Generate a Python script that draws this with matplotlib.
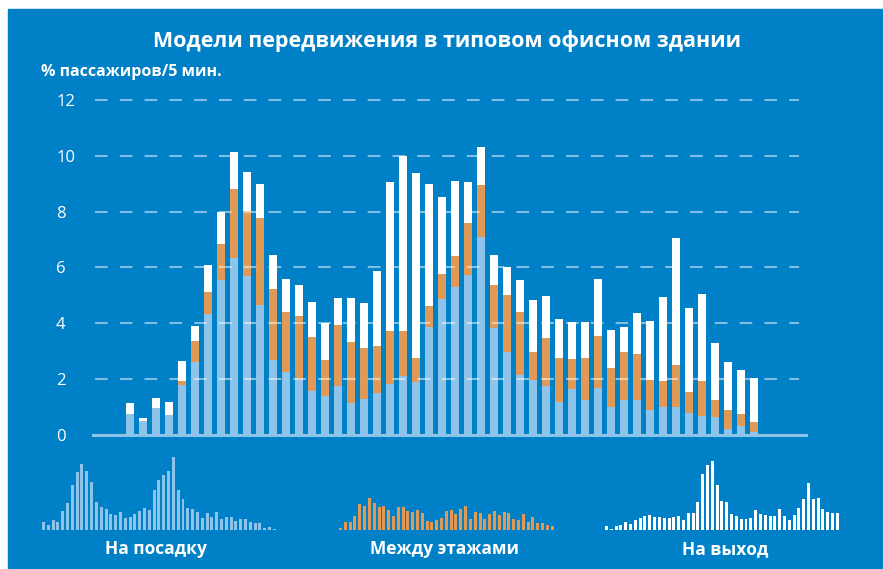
import matplotlib

matplotlib.use("Agg")
import matplotlib.pyplot as plt
from matplotlib.patches import Rectangle
import numpy as np

plt.rcParams["font.family"] = ["Open Sans", "DejaVu Sans"]

# доли пассажиров по 5-минутным интервалам (% пассажиров/5 мин.)
boarding = [0.74, 0.49, 0.96, 0.71, 1.78, 2.61, 4.34, 5.56, 6.35, 5.70,
            4.66, 2.68, 2.25, 2.00, 1.57, 1.39, 1.75, 1.14, 1.28, 1.50,
            1.82, 2.11, 1.89, 3.87, 4.87, 5.31, 5.74, 7.10, 3.83, 2.97,
            2.14, 1.96, 1.75, 1.17, 1.64, 1.25, 1.68, 0.99, 1.25, 1.25,
            0.89, 0.99, 0.99, 0.78, 0.67, 0.63, 0.20, 0.31, 0.10]
interfloor = [0.00, 0.00, 0.00, 0.00, 0.15, 0.76, 0.79, 1.29, 2.48, 2.34,
              3.12, 2.55, 2.16, 2.26, 1.94, 1.29, 2.19, 2.19, 1.83, 1.69,
              1.90, 1.61, 0.86, 0.75, 0.90, 1.11, 1.86, 1.87, 1.55, 2.05,
              2.27, 1.01, 1.72, 1.58, 1.08, 1.50, 1.86, 1.41, 1.72, 1.65,
              1.07, 0.94, 1.51, 0.75, 1.26, 0.62, 0.69, 0.43, 0.36]
exiting = [0.40, 0.11, 0.36, 0.46, 0.72, 0.53, 0.97, 1.15, 1.33, 1.40,
           1.22, 1.23, 1.18, 1.12, 1.26, 1.33, 0.97, 1.58, 1.62, 2.69,
           5.36, 6.29, 6.65, 4.38, 2.77, 2.69, 1.48, 1.37, 1.08, 1.00,
           1.15, 1.87, 1.51, 1.41, 1.33, 1.30, 2.05, 1.36, 0.90, 1.47,
           2.12, 3.02, 4.57, 3.02, 3.12, 2.04, 1.72, 1.58, 1.58]
y_ticks = [0, 2, 4, 6, 8, 10, 12]

title = "Модели передвижения в типовом офисном здании"
y_label = "% пассажиров/5 мин."
small_titles = ["На посадку", "Между этажами", "На выход"]

BG = "#0080c6"
C_BOARD = "#8ec4ea"
C_INTER = "#e09a55"
C_EXIT = "#ffffff"

W, H = 883, 569


def px_box(left, top, width, height):
    # пиксели (от левого верхнего угла) -> доли фигуры
    return [left / W, 1 - (top + height) / H, width / W, height / H]


fig = plt.figure(figsize=(W / 100, H / 100), dpi=100)
fig.patch.set_facecolor("white")
fig.patches.append(Rectangle((8 / W, 0), 1 - 8 / W, 1 - 9 / H,
                             transform=fig.transFigure, color=BG, zorder=-10))

x = np.arange(len(boarding))
b = np.array(boarding)
f = np.array(interfloor)
e = np.array(exiting)

# основной график
ax = fig.add_axes(px_box(93, 434.7 - 12.3 * 27.87, 713, 12.3 * 27.87))
ax.set_facecolor("none")
ax.bar(x, b, width=0.62, color=C_BOARD, zorder=2)
ax.bar(x, f, width=0.62, bottom=b, color=C_INTER, zorder=2)
ax.bar(x, e, width=0.62, bottom=b + f, color=C_EXIT, zorder=2)
ax.hlines(y_ticks[1:], -2.69, 51.46, colors="white", alpha=0.5, lw=1.5,
          linestyles=(0, (6.1, 5.8)), zorder=4)
ax.axhline(0, color=C_BOARD, lw=2.2, clip_on=False, zorder=3)
ax.set_xlim(-2.85, 52.0)
ax.set_ylim(0, 12.3)
ax.set_xticks([])
ax.set_yticks(y_ticks)
ax.set_yticklabels([str(t) for t in y_ticks])
ax.tick_params(axis="y", length=0, pad=26.6, labelsize=12, labelcolor="white")
for lab in ax.get_yticklabels():
    lab.set_horizontalalignment("left")
for s in ax.spines.values():
    s.set_visible(False)

# маленькие графики по типам
small = [(41.1, b, C_BOARD), (318.9, f, C_INTER), (604.1, e, C_EXIT)]
label_x = [156, 444, 725]
for (left, vals, col), name, lx in zip(small, small_titles, label_x):
    sa = fig.add_axes(px_box(left, 529.7 - 77.3, 235.7, 77.3))
    sa.set_facecolor("none")
    sa.bar(x, vals, width=0.62, color=col)
    sa.set_xlim(-0.5, 48.5)
    sa.set_ylim(0, 7.5)
    sa.axis("off")
    fig.text(lx / W, 1 - 554 / H, name, ha="center", va="baseline",
             fontsize=12.5, weight="bold", color="white")

fig.text(447 / W, 1 - 47 / H, title, ha="center", va="baseline",
         fontsize=15.5, weight="bold", color="white")
fig.text(41 / W, 1 - 76 / H, y_label, ha="left", va="baseline",
         fontsize=11.5, weight="bold", color="white")

fig.savefig("out.png", dpi=100, facecolor=fig.get_facecolor())
